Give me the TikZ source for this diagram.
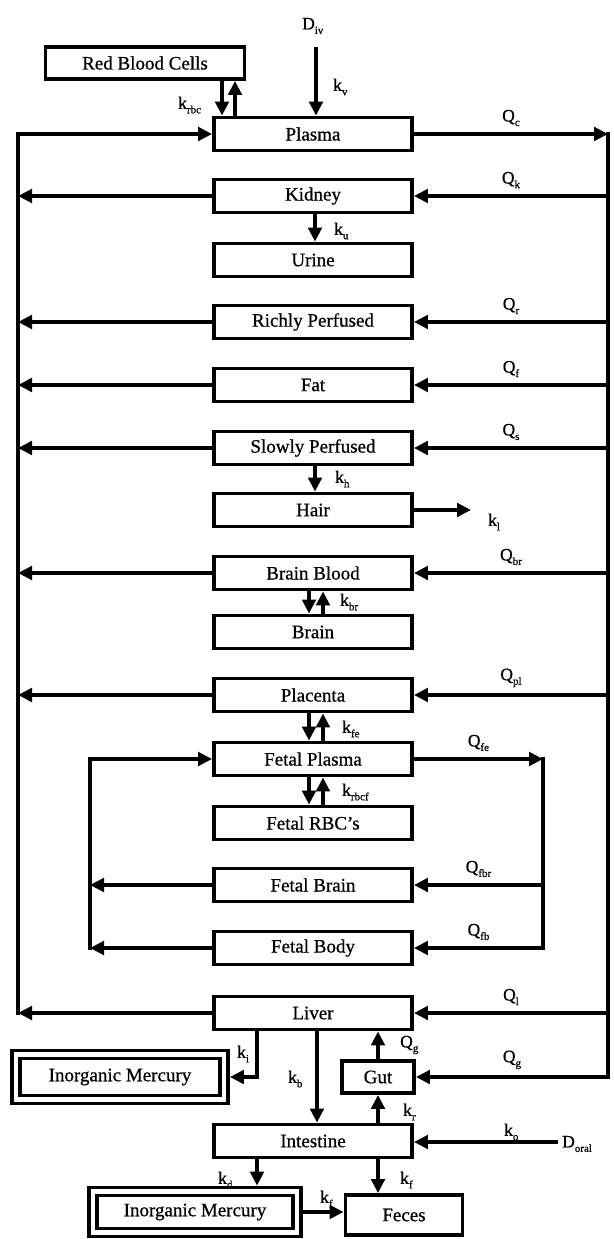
\documentclass[tikz,border=0pt]{standalone}
\usepackage{fontspec}
\setmainfont{Liberation Serif}[FakeBold=0.7]
\usepackage{tikz}
\usetikzlibrary{arrows.meta,calc,positioning}
\newcommand{\rate}[2]{#1\raisebox{-4.5pt}{\fontsize{11}{11}\selectfont #2}}

\begin{document}
\begin{tikzpicture}[x=1pt,y=-1pt,>={Triangle[length=14pt,width=13.5pt]},
  box/.style={draw,line width=3.9pt,minimum width=198pt,minimum height=33pt,inner sep=0pt,font=\fontsize{19}{19}\selectfont},
  hgbox/.style={draw,double,line width=3.8pt,double distance=4.2pt,outer sep=5.9pt,inner sep=0pt,font=\fontsize{19}{19}\selectfont},
  flow/.style={line width=3.9pt,->},
  rail/.style={line width=3.9pt,line cap=rect},
  lab/.style={inner sep=1pt,anchor=west,font=\fontsize{17.5}{17.5}\selectfont}]
\useasboundingbox (0,0) rectangle (613,1239);
% rails and arrow columns
\coordinate (lrail) at (18,0);
\coordinate (rrail) at (608,0);
\coordinate (flrail) at (90,0);
\coordinate (frrail) at (543,0);
\coordinate (one) at (315,0);
\coordinate (dn) at (309,0);
\coordinate (up) at (323,0);
\coordinate (rbcdn) at (222,0);
\coordinate (rbcup) at (235,0);
\coordinate (kix) at (257,0);
\coordinate (kbx) at (317,0);
\coordinate (gx) at (378,0);
\coordinate (hairout) at (471,0);
\coordinate (ivin) at (316,47);
\coordinate (oral) at (558,1142);
% compartments
\foreach \n/\y/\t in {plasma/134/Plasma, kidney/196/Kidney, urine/260/Urine, rich/322/Richly Perfused,
  fat/385/Fat, slow/448/Slowly Perfused, hair/510/Hair, bblood/573/Brain Blood, brain/632/Brain,
  placenta/695/Placenta, fplasma/759/Fetal Plasma, frbc/823/Fetal RBC's, fbrain/885/Fetal Brain,
  fbody/948/Fetal Body, liver/1013/Liver, intestine/1141/Intestine}
  {\node[box] (\n) at (313,\y) {\t};}
\node[box,minimum width=199pt,minimum height=32pt] (rbc) at (145,63) {Red Blood Cells};
\node[box,minimum width=72pt,minimum height=32pt] (gut) at (378,1077) {Gut};
\node[box,minimum width=117pt,minimum height=40pt] (feces) at (404,1215) {Feces};
\node[hgbox,minimum width=208pt,minimum height=45pt] (hg1) at (120,1077) {Inorganic Mercury};
\node[hgbox,minimum width=204pt,minimum height=41pt] (hg2) at (195,1212) {Inorganic Mercury};
% blood flows
\draw[rail] (rrail |- plasma.east) -- (rrail |- gut.east);
\draw[rail] (lrail |- plasma.west) -- (lrail |- liver.west);
\draw[flow] (plasma.east) -- node[lab,above=5pt] (qc) {\rate{Q}{c}} (rrail |- plasma.east);
\draw[flow] (lrail |- plasma.west) -- (plasma.west);
\foreach \n/\q in {kidney/k, rich/r, fat/f, slow/s, bblood/br, placenta/pl, liver/l} {
  \draw[flow] (rrail |- \n.east) -- node[lab,above=5pt] (q\n) {\rate{Q}{\q}} (\n.east);
  \draw[flow] (\n.west) -- (lrail |- \n.west);
}
\draw[flow] (rrail |- gut.east) -- node[lab,above=5pt] (qgut) {\rate{Q}{g}} (gut.east);
% fetal loop
\draw[rail] (frrail |- fplasma.east) -- (frrail |- fbody.east);
\draw[rail] (flrail |- fplasma.west) -- (flrail |- fbody.west);
\draw[flow] (fplasma.east) -- node[lab,above=5pt] (qfe) {\rate{Q}{fe}} (frrail |- fplasma.east);
\draw[flow] (flrail |- fplasma.west) -- (fplasma.west);
\foreach \n/\q in {fbrain/fbr, fbody/fb} {
  \draw[flow] (frrail |- \n.east) -- node[lab,above=5pt] (q\n) {\rate{Q}{\q}} (\n.east);
  \draw[flow] (\n.west) -- (flrail |- \n.west);
}
% transfers
\draw[flow] (ivin) -- (ivin |- plasma.north);
\draw[flow] (rbcdn |- rbc.south) -- (rbcdn |- plasma.north);
\draw[flow] (rbcup |- plasma.north) -- (rbcup |- rbc.south);
\draw[flow] (one |- kidney.south) -- (one |- urine.north);
\draw[flow] (one |- slow.south) -- (one |- hair.north);
\draw[flow] (hair.east) -- (hairout |- hair.east);
\foreach \a/\b in {bblood/brain, placenta/fplasma, fplasma/frbc} {
  \draw[flow] (dn |- \a.south) -- (dn |- \b.north);
  \draw[flow] (up |- \b.north) -- (up |- \a.south);
}
\draw[flow] (kix |- liver.south) |- (hg1.east);
\draw[flow] (kbx |- liver.south) -- (kbx |- intestine.north);
\draw[flow] (gx |- gut.north) -- (gx |- liver.south);
\draw[flow] (gx |- intestine.north) -- (gx |- gut.south);
\draw[flow] (kix |- intestine.south) -- (kix |- hg2.north);
\draw[flow] (gx |- intestine.south) -- (gx |- feces.north);
\draw[flow] (hg2.east) -- (hg2.east -| feces.west);
\draw[flow] (oral) -- (oral -| intestine.east);
% rate labels
\node[lab] (div) at (301,26) {\rate{D}{iv}};
\node[lab] (kv) at (332,87) {\rate{k}{v}};
\node[lab] (krbc) at (177,105) {\rate{k}{rbc}};
\node[lab] (ku) at (333,231) {\rate{k}{u}};
\node[lab] (kh) at (334,479) {\rate{k}{h}};
\node[lab] (kl) at (487,522) {\rate{k}{l}};
\node[lab] (kbr) at (339,602) {\rate{k}{br}};
\node[lab] (kfe) at (341,729) {\rate{k}{fe}};
\node[lab] (krbcf) at (341,792) {\rate{k}{rbcf}};
\node[lab] (ki) at (236,1054) {\rate{k}{i}};
\node[lab] (kb) at (287,1079) {\rate{k}{b}};
\node[lab] (qg) at (399,1045) {\rate{Q}{g}};
\node[lab] (kr) at (402,1112) {\rate{k}{r}};
\node[lab] (ko) at (503,1132) {\rate{k}{o}};
\node[lab] (doral) at (561,1144) {\rate{D}{oral}};
\node[lab] (kd) at (217,1180) {\rate{k}{d}};
\node[lab] (kf) at (399,1180) {\rate{k}{f}};
\node[lab] (kf2) at (319,1199) {\rate{k}{f}};
\end{tikzpicture}
\end{document}
